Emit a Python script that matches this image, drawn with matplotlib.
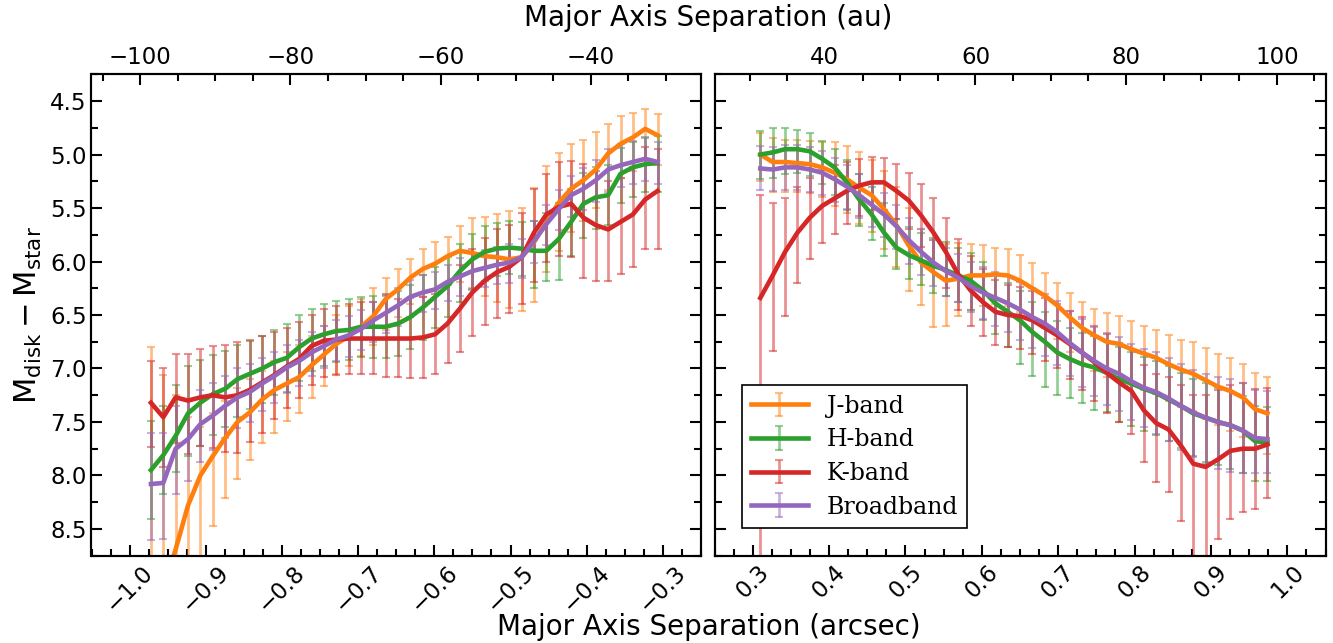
import numpy as np
import matplotlib
matplotlib.use("Agg")
import matplotlib.pyplot as plt
from matplotlib.ticker import MultipleLocator
from matplotlib.colors import to_rgba

# ---------------- data ----------------
dist_pc = 101.4  # arcsec -> au conversion
sep_left = np.linspace(-0.972, -0.307, 42)
sep_right = np.linspace(0.310, 0.974, 42)

bands = ["J-band", "H-band", "K-band", "Broadband"]
colors = ["tab:orange", "tab:green", "tab:red", "tab:purple"]

# Left side (negative separations)
J_left = [9.60, 9.05, 8.69, 8.28, 8.00, 7.82, 7.65, 7.50, 7.41, 7.29, 7.20, 7.14, 7.08, 6.97,
          6.87, 6.77, 6.70, 6.61, 6.51, 6.35, 6.26, 6.15, 6.07, 6.02, 5.95, 5.90, 5.92, 5.95,
          5.96, 5.98, 5.96, 5.82, 5.63, 5.45, 5.32, 5.24, 5.14, 4.99, 4.90, 4.84, 4.76, 4.82]
J_left_top = [6.80, 7.06, 7.25, 7.45, 7.55, 7.42, 7.30, 7.18, 7.10, 7.02, 6.93, 6.85, 6.78, 6.70,
              6.60, 6.50, 6.42, 6.35, 6.25, 6.15, 6.07, 5.98, 5.88, 5.82, 5.77, 5.67, 5.59, 5.58,
              5.56, 5.53, 5.50, 5.31, 5.11, 4.99, 4.90, 4.86, 4.79, 4.71, 4.64, 4.61, 4.57, 4.62]
J_left_bot = [10.0, 10.0, 10.0, 10.0, 10.0, 8.47, 8.21, 8.03, 7.86, 7.70, 7.60, 7.49, 7.42, 7.28,
              7.16, 7.05, 6.98, 6.88, 6.78, 6.64, 6.52, 6.40, 6.33, 6.28, 6.22, 6.19, 6.25, 6.32,
              6.38, 6.43, 6.46, 6.38, 6.10, 5.90, 5.72, 5.62, 5.50, 5.33, 5.22, 5.15, 5.05, 5.10]

H_left = [7.95, 7.81, 7.63, 7.42, 7.32, 7.24, 7.19, 7.10, 7.05, 7.00, 6.94, 6.90, 6.80, 6.72,
          6.68, 6.65, 6.64, 6.61, 6.61, 6.61, 6.58, 6.52, 6.43, 6.33, 6.23, 6.09, 5.98, 5.91,
          5.88, 5.87, 5.88, 5.90, 5.90, 5.79, 5.63, 5.46, 5.40, 5.38, 5.18, 5.12, 5.09, 5.08]
H_left_top = [7.49, 7.35, 7.15, 6.98, 6.92, 6.87, 6.84, 6.78, 6.74, 6.70, 6.64, 6.58, 6.50, 6.44,
              6.40, 6.37, 6.35, 6.33, 6.32, 6.32, 6.28, 6.22, 6.13, 6.05, 5.96, 5.84, 5.74, 5.67,
              5.64, 5.62, 5.63, 5.62, 5.55, 5.45, 5.32, 5.17, 5.12, 5.10, 4.94, 4.88, 4.84, 4.83]
H_left_bot = [8.41, 8.17, 7.97, 7.82, 7.72, 7.62, 7.55, 7.45, 7.38, 7.32, 7.25, 7.22, 7.12, 7.02,
              6.98, 6.94, 6.92, 6.89, 6.90, 6.90, 6.88, 6.82, 6.73, 6.62, 6.52, 6.38, 6.26, 6.18,
              6.14, 6.12, 6.14, 6.25, 6.18, 6.17, 5.95, 5.78, 5.70, 5.66, 5.45, 5.40, 5.35, 5.35]

K_left = [7.32, 7.455, 7.27, 7.30, 7.27, 7.25, 7.27, 7.25, 7.20, 7.13, 7.06, 6.98, 6.91, 6.79,
          6.74, 6.73, 6.72, 6.72, 6.72, 6.72, 6.72, 6.72, 6.71, 6.68, 6.58, 6.44, 6.29, 6.18,
          6.10, 6.05, 5.96, 5.73, 5.56, 5.49, 5.46, 5.59, 5.66, 5.70, 5.63, 5.56, 5.42, 5.34]
K_left_top = [6.93, 7.00, 6.86, 6.86, 6.82, 6.79, 6.78, 6.75, 6.73, 6.70, 6.66, 6.62, 6.57, 6.50,
              6.44, 6.42, 6.40, 6.38, 6.38, 6.30, 6.35, 6.34, 6.33, 6.30, 6.20, 6.03, 5.88, 5.78,
              5.70, 5.66, 5.55, 5.32, 5.18, 5.07, 5.06, 5.09, 5.15, 5.25, 5.22, 5.12, 4.93, 4.95]
K_left_bot = [7.73, 7.92, 7.70, 7.80, 7.72, 7.74, 7.78, 7.79, 7.69, 7.60, 7.47, 7.37, 7.28, 7.15,
              7.08, 7.06, 7.05, 7.05, 7.05, 7.08, 7.08, 7.09, 7.09, 7.05, 6.95, 6.85, 6.70, 6.59,
              6.53, 6.48, 6.40, 6.19, 6.00, 5.95, 5.96, 6.15, 6.18, 6.18, 6.12, 6.05, 5.88, 5.88]

B_left = [8.08, 8.07, 7.75, 7.66, 7.52, 7.44, 7.35, 7.27, 7.22, 7.14, 7.07, 6.99, 6.93, 6.85,
          6.79, 6.73, 6.69, 6.63, 6.55, 6.48, 6.41, 6.33, 6.29, 6.26, 6.19, 6.14, 6.09, 6.06,
          6.03, 6.01, 5.96, 5.81, 5.65, 5.51, 5.38, 5.32, 5.24, 5.14, 5.10, 5.07, 5.04, 5.07]
B_left_top = [7.60, 7.60, 7.35, 7.30, 7.20, 7.14, 7.07, 7.00, 6.96, 6.90, 6.85, 6.78, 6.73, 6.66,
              6.60, 6.55, 6.51, 6.45, 6.38, 6.31, 6.25, 6.17, 6.13, 6.10, 6.03, 5.97, 5.92, 5.89,
              5.86, 5.84, 5.79, 5.62, 5.47, 5.33, 5.20, 5.13, 5.05, 4.95, 4.90, 4.87, 4.85, 4.88]
B_left_bot = [8.60, 8.59, 8.17, 8.05, 7.87, 7.76, 7.65, 7.56, 7.50, 7.40, 7.32, 7.23, 7.16, 7.07,
              7.00, 6.93, 6.89, 6.83, 6.75, 6.67, 6.60, 6.52, 6.47, 6.44, 6.37, 6.32, 6.27, 6.24,
              6.21, 6.20, 6.15, 6.01, 5.85, 5.71, 5.58, 5.52, 5.44, 5.35, 5.30, 5.28, 5.25, 5.28]

# Right side (positive separations)
J_right = [5.00, 5.07, 5.07, 5.08, 5.09, 5.12, 5.17, 5.23, 5.31, 5.38, 5.51, 5.66, 5.85, 6.01,
           6.10, 6.18, 6.16, 6.13, 6.13, 6.12, 6.13, 6.18, 6.25, 6.32, 6.41, 6.52, 6.62, 6.69,
           6.75, 6.77, 6.82, 6.86, 6.90, 6.96, 7.01, 7.05, 7.11, 7.17, 7.21, 7.27, 7.38, 7.42]
J_right_top = [4.80, 4.85, 4.86, 4.86, 4.87, 4.88, 4.88, 4.92, 4.98, 5.05, 5.15, 5.30, 5.50, 5.70,
               5.80, 5.84, 5.83, 5.84, 5.85, 5.87, 5.88, 5.94, 6.01, 6.11, 6.20, 6.29, 6.38, 6.44,
               6.48, 6.51, 6.56, 6.60, 6.64, 6.69, 6.73, 6.75, 6.81, 6.86, 6.90, 6.96, 7.04, 7.08]
J_right_bot = [5.25, 5.35, 5.35, 5.35, 5.36, 5.40, 5.48, 5.55, 5.65, 5.72, 5.88, 6.05, 6.28, 6.41,
               6.61, 6.60, 6.51, 6.45, 6.42, 6.40, 6.42, 6.47, 6.55, 6.62, 6.72, 6.85, 6.95, 7.02,
               7.08, 7.10, 7.15, 7.20, 7.24, 7.30, 7.36, 7.40, 7.47, 7.53, 7.58, 7.64, 7.75, 7.80]

H_right = [5.00, 4.98, 4.95, 4.95, 4.97, 5.04, 5.12, 5.26, 5.42, 5.56, 5.73, 5.87, 5.94, 5.99,
           6.04, 6.08, 6.13, 6.18, 6.27, 6.39, 6.47, 6.55, 6.66, 6.75, 6.85, 6.91, 6.96, 6.99,
           7.04, 7.10, 7.14, 7.19, 7.23, 7.29, 7.35, 7.42, 7.46, 7.50, 7.53, 7.58, 7.68, 7.69]
H_right_top = [4.78, 4.75, 4.75, 4.77, 4.80, 4.87, 4.95, 5.05, 5.18, 5.30, 5.45, 5.60, 5.68, 5.73,
               5.78, 5.82, 5.87, 5.92, 6.00, 6.12, 6.20, 6.28, 6.38, 6.47, 6.56, 6.62, 6.67, 6.70,
               6.75, 6.80, 6.85, 6.89, 6.93, 6.98, 7.04, 7.10, 7.14, 7.18, 7.21, 7.26, 7.35, 7.36]
H_right_bot = [5.23, 5.22, 5.18, 5.17, 5.20, 5.28, 5.38, 5.52, 5.67, 5.80, 5.95, 6.07, 6.16, 6.22,
               6.29, 6.32, 6.38, 6.45, 6.55, 6.68, 6.80, 6.96, 7.07, 7.17, 7.25, 7.28, 7.32, 7.39,
               7.41, 7.50, 7.54, 7.58, 7.62, 7.68, 7.74, 7.82, 7.87, 7.90, 7.94, 7.98, 8.05, 8.05]

K_right = [6.34, 6.13, 5.91, 5.73, 5.59, 5.48, 5.41, 5.34, 5.29, 5.26, 5.26, 5.34, 5.43, 5.57,
           5.73, 5.91, 6.12, 6.27, 6.38, 6.47, 6.50, 6.51, 6.55, 6.62, 6.69, 6.77, 6.85, 6.94,
           7.04, 7.13, 7.21, 7.39, 7.51, 7.57, 7.72, 7.89, 7.92, 7.85, 7.77, 7.75, 7.75, 7.71]
K_right_top = [5.38, 5.45, 5.41, 5.30, 5.22, 5.14, 5.10, 5.07, 5.04, 5.02, 5.03, 5.09, 5.17, 5.28,
               5.41, 5.59, 5.79, 5.95, 6.07, 6.17, 6.22, 6.24, 6.28, 6.34, 6.40, 6.46, 6.52, 6.60,
               6.68, 6.76, 6.82, 6.97, 7.05, 7.08, 7.15, 7.25, 7.25, 7.20, 7.15, 7.14, 7.19, 7.18]
K_right_bot = [10.0, 6.84, 6.51, 6.20, 5.98, 5.83, 5.74, 5.65, 5.57, 5.52, 5.52, 5.60, 5.70, 5.86,
               6.05, 6.25, 6.45, 6.60, 6.70, 6.78, 6.80, 6.82, 6.86, 6.93, 7.00, 7.10, 7.20, 7.30,
               7.42, 7.50, 7.61, 7.87, 8.06, 8.15, 8.43, 10.0, 10.0, 8.59, 8.41, 8.34, 8.31, 8.21]

B_right = [5.13, 5.14, 5.12, 5.12, 5.14, 5.17, 5.23, 5.30, 5.38, 5.47, 5.56, 5.67, 5.80, 5.91,
           6.01, 6.09, 6.15, 6.23, 6.29, 6.34, 6.39, 6.45, 6.52, 6.58, 6.66, 6.76, 6.85, 6.93,
           7.00, 7.05, 7.12, 7.18, 7.22, 7.28, 7.35, 7.41, 7.46, 7.50, 7.53, 7.58, 7.65, 7.66]
B_right_top = [4.92, 4.93, 4.91, 4.91, 4.93, 4.97, 5.03, 5.10, 5.18, 5.27, 5.36, 5.47, 5.59, 5.70,
               5.80, 5.87, 5.93, 6.00, 6.05, 6.10, 6.14, 6.19, 6.25, 6.30, 6.37, 6.46, 6.54, 6.61,
               6.67, 6.71, 6.77, 6.82, 6.85, 6.90, 6.96, 7.01, 7.05, 7.08, 7.10, 7.14, 7.20, 7.21]
B_right_bot = [5.33, 5.34, 5.33, 5.33, 5.35, 5.38, 5.44, 5.51, 5.59, 5.68, 5.77, 5.88, 6.02, 6.13,
               6.23, 6.32, 6.38, 6.47, 6.54, 6.60, 6.66, 6.73, 6.81, 6.88, 6.97, 7.07, 7.17, 7.26,
               7.34, 7.40, 7.48, 7.55, 7.61, 7.68, 7.76, 7.83, 7.89, 7.94, 7.97, 7.98, 7.98, 7.98]

left_sets = [(J_left, J_left_top, J_left_bot), (H_left, H_left_top, H_left_bot),
             (K_left, K_left_top, K_left_bot), (B_left, B_left_top, B_left_bot)]
right_sets = [(J_right, J_right_top, J_right_bot), (H_right, H_right_top, H_right_bot),
              (K_right, K_right_top, K_right_bot), (B_right, B_right_top, B_right_bot)]

# ---------------- figure ----------------
fig = plt.figure(figsize=(13.33, 6.43), dpi=100)
H = 643.0
W = 1333.0
axL = fig.add_axes([91.5 / W, 1 - 555.7 / H, 609.5 / W, 481.4 / H])
axR = fig.add_axes([714.5 / W, 1 - 555.7 / H, 611.0 / W, 481.4 / H])

TICK_FS = 16.5


def draw(ax, xs, sets):
    for (y, top, bot), c, lab in zip(sets, colors, bands):
        y = np.asarray(y)
        yerr = np.vstack([y - np.asarray(top), np.asarray(bot) - y])
        ax.errorbar(xs, y, yerr=yerr, color=c, lw=3.3,
                    ecolor=to_rgba(c, 0.5), elinewidth=2.0,
                    capsize=3, capthick=1.5, label=lab)


draw(axL, sep_left, left_sets)
draw(axR, sep_right, right_sets)

axL.set_xlim(-1.05, -0.25)
axR.set_xlim(0.25, 1.05)
for ax in (axL, axR):
    ax.set_ylim(8.75, 4.25)
    ax.yaxis.set_major_locator(MultipleLocator(0.5))
    ax.yaxis.set_minor_locator(MultipleLocator(0.25))
    ax.xaxis.set_major_locator(MultipleLocator(0.1))
    ax.xaxis.set_minor_locator(MultipleLocator(0.025))
    ax.tick_params(which='both', direction='in', right=True, top=False,
                   labelsize=TICK_FS, width=1.5)
    ax.tick_params(which='major', length=8)
    ax.tick_params(which='minor', length=5)
    for s in ax.spines.values():
        s.set_linewidth(1.5)

axR.tick_params(labelleft=False)

axL.set_xticks(np.round(np.arange(-1.0, -0.25, 0.1), 1))
axR.set_xticks(np.round(np.arange(0.3, 1.05, 0.1), 1))
axL.set_xticklabels([f"{v:.1f}".replace("-", "\u2212") for v in np.arange(-1.0, -0.25, 0.1)],
                    rotation=45)
axR.set_xticklabels([f"{v:.1f}" for v in np.arange(0.3, 1.05, 0.1)], rotation=45)

# top au axes
for ax, ticks in ((axL, [-100, -80, -60, -40]), (axR, [40, 60, 80, 100])):
    tw = ax.twiny()
    lo, hi = ax.get_xlim()
    tw.set_xlim(lo * dist_pc, hi * dist_pc)
    tw.set_xticks(ticks)
    tw.xaxis.set_minor_locator(MultipleLocator(5))
    tw.tick_params(which='both', direction='in', labelsize=TICK_FS, width=1.5)
    tw.tick_params(which='major', length=8)
    tw.tick_params(which='minor', length=5)
    for s in tw.spines.values():
        s.set_linewidth(1.5)

axL.set_ylabel(r"$\mathrm{M_{disk}-M_{star}}$", fontsize=22)

cx = (91.5 + 1325.5) / 2 / W
fig.text(cx, 1 - 627 / H, "Major Axis Separation (arcsec)", ha='center', va='center', fontsize=20)
fig.text(cx, 1 - 18 / H, "Major Axis Separation (au)", ha='center', va='center', fontsize=20)

leg = axR.legend(loc='lower left', bbox_to_anchor=(27 / 611, 27.7 / 481.4), borderaxespad=0,
                 prop={'family': 'DejaVu Serif', 'size': 17}, fancybox=False,
                 edgecolor='black', framealpha=1, handlelength=2.4, labelspacing=0.45)
leg.get_frame().set_linewidth(1.2)

fig.savefig("out.png", dpi=100)
